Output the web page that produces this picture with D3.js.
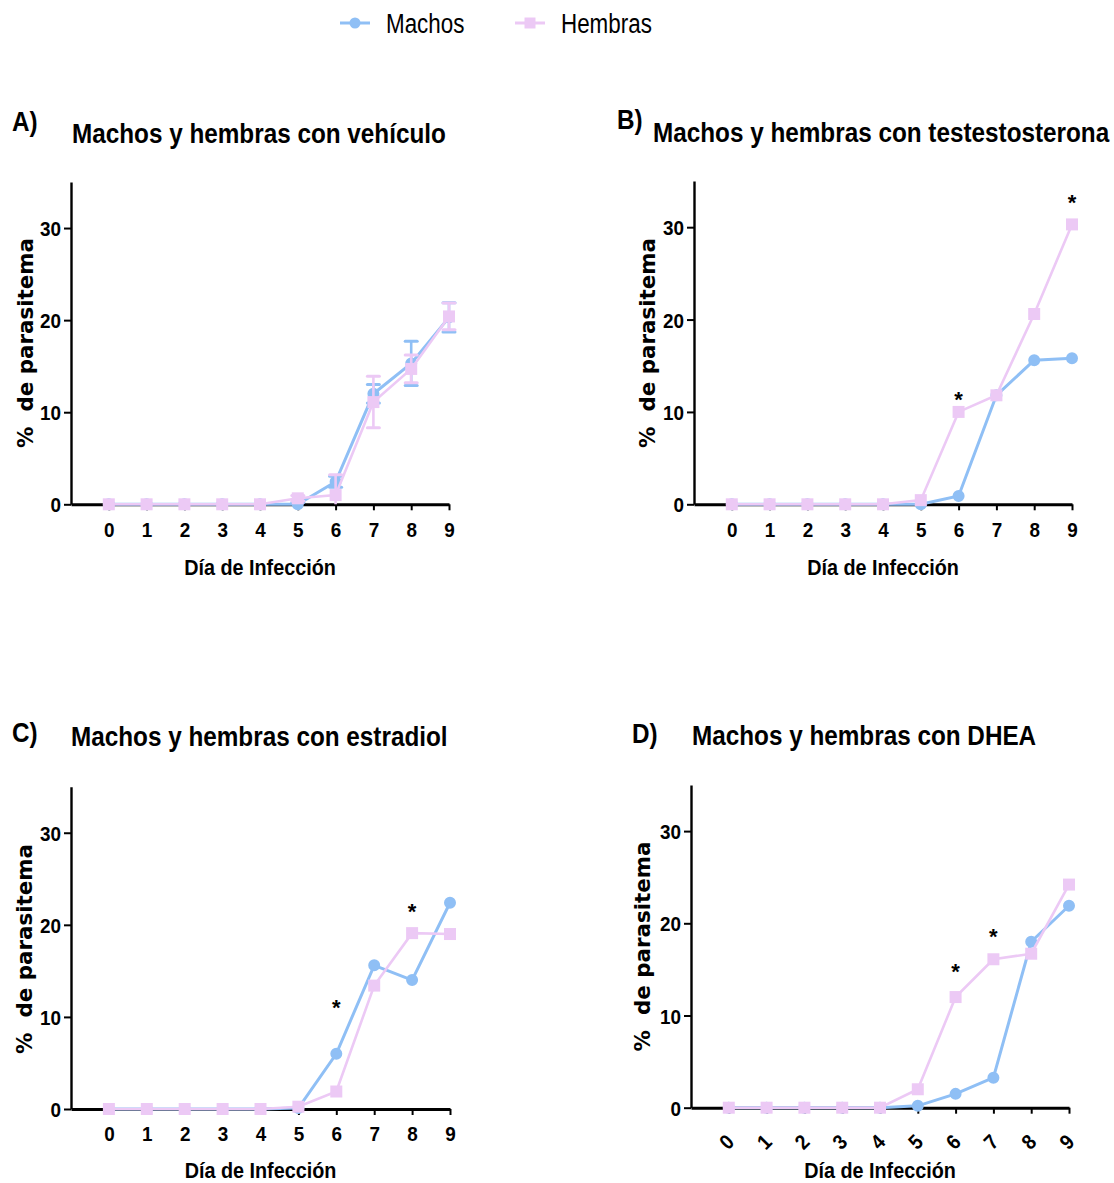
<!DOCTYPE html>
<html>
<head>
<meta charset="utf-8">
<script src="https://cdn.jsdelivr.net/npm/d3@7"></script>
<style>
  html, body { margin: 0; padding: 0; background: #ffffff; }
  svg { display: block; }
</style>
</head>
<body>
<svg id="chart" width="1114" height="1183"></svg>
<script>
// ---- data ----
const days = [0, 1, 2, 3, 4, 5, 6, 7, 8, 9];
const yTicks = [0, 10, 20, 30];
const seriesNames = ["Machos", "Hembras"];
const xAxisTitle = "Día de Infección";
const yAxisTitle = "%  de parasitema";

const titles = [
  "Machos y hembras con vehículo",
  "Machos y hembras con testestosterona",
  "Machos y hembras con estradiol",
  "Machos y hembras con DHEA"
];
const panelLetters = ["A)", "B)", "C)", "D)"];

// vehículo (mean ± error)
const vehMachos      = [0, 0, 0, 0, 0, 0,    2.45, 12.0, 15.3, 20.3];
const vehMachosErr   = [0, 0, 0, 0, 0, 0.2,  0.6,  1.0,  2.4,  1.6];
const vehHembras     = [0, 0, 0, 0, 0, 0.65, 1.0,  11.1, 14.7, 20.4];
const vehHembrasErr  = [0, 0, 0, 0, 0, 0.3,  2.2,  2.8,  1.5,  1.45];

// testosterona
const testMachos  = [0, 0, 0, 0, 0, 0,    0.9,  11.8, 15.6, 15.8];
const testHembras = [0, 0, 0, 0, 0, 0.45, 10.0, 11.8, 20.6, 30.3];
const testSig     = [{ day: 6, level: 11.8 }, { day: 9, level: 33.2 }];

// estradiol
const estMachos  = [0, 0, 0, 0, 0, 0.1,  6.0, 15.6, 14.0, 22.4];
const estHembras = [0, 0, 0, 0, 0, 0.25, 1.9, 13.4, 19.1, 19.0];
const estSig     = [{ day: 6, level: 11.5 }, { day: 8, level: 21.9 }];

// DHEA
const dheaMachos  = [0, 0, 0, 0, 0, 0.2, 1.5,  3.25, 18.0, 21.9];
const dheaHembras = [0, 0, 0, 0, 0, 2.0, 12.0, 16.1, 16.7, 24.2];
const dheaSig     = [{ day: 6, level: 15.3 }, { day: 7, level: 19.1 }];

// ---- styling ----
const BLUE = "#8fbff5";
const PINK = "#ecc9f5";
const FONT = "'Liberation Sans', Arial, sans-serif";
const YFONT = "'DejaVu Sans', Verdana, sans-serif";
const NARROW = 0.9;   // horizontal squeeze for the condensed bold lettering

const svg = d3.select("#chart");

// text helper: condensed look via horizontal scaling around the anchor point
function label(parent, x, y, str, opts) {
  const g = parent.append("g")
    .attr("transform", `translate(${x},${y}) scale(${opts.sx || 1},1)`);
  g.append("text")
    .attr("text-anchor", opts.anchor || "start")
    .attr("font-family", opts.family || FONT)
    .attr("font-weight", opts.weight || "bold")
    .attr("font-size", opts.size)
    .attr("fill", opts.fill || "#000")
    .text(str);
  return g;
}

// ---- legend ----
const legend = svg.append("g");
const legendItems = [
  { name: seriesNames[0], color: BLUE, shape: "circle", x: 340 },
  { name: seriesNames[1], color: PINK, shape: "square", x: 515 }
];
legendItems.forEach(it => {
  legend.append("line")
    .attr("x1", it.x).attr("x2", it.x + 30)
    .attr("y1", 23).attr("y2", 23)
    .attr("stroke", it.color).attr("stroke-width", 3);
  legend.append("path")
    .attr("transform", `translate(${it.x + 15},23)`)
    .attr("d", d3.symbol(it.shape === "circle" ? d3.symbolCircle : d3.symbolSquare,
                         it.shape === "circle" ? 95 : 121)())
    .attr("fill", it.color);
  label(legend, it.x + 46, 33, it.name, { size: 28, weight: "normal", sx: 0.8 });
});

// ---- panels ----
const panels = [
  { title: titles[0], letter: panelLetters[0], machos: vehMachos, hembras: vehHembras,
    machosErr: vehMachosErr, hembrasErr: vehHembrasErr, sig: [],
    x0: 71, x1: 449, yBase: 504.3, yTop: 182,
    titleX: 72, titleY: 142.7, letterX: 12, letterY: 130.5,
    ylabX: 32.5, ylabY: 343, xlabY: 575, rotTicks: false },
  { title: titles[1], letter: panelLetters[1], machos: testMachos, hembras: testHembras,
    sig: testSig,
    x0: 694, x1: 1072, yBase: 504.3, yTop: 181,
    titleX: 653, titleY: 141.7, letterX: 617, letterY: 129,
    ylabX: 655, ylabY: 343, xlabY: 575, rotTicks: false },
  { title: titles[2], letter: panelLetters[2], machos: estMachos, hembras: estHembras,
    sig: estSig,
    x0: 71, x1: 450, yBase: 1109, yTop: 786.7,
    titleX: 71, titleY: 746, letterX: 12, letterY: 741.5,
    ylabX: 32, ylabY: 949, xlabY: 1178, rotTicks: false },
  { title: titles[3], letter: panelLetters[3], machos: dheaMachos, hembras: dheaHembras,
    sig: dheaSig,
    x0: 691, x1: 1069, yBase: 1107.7, yTop: 785,
    titleX: 692, titleY: 745, letterX: 632, letterY: 743,
    ylabX: 650, ylabY: 946.5, xlabY: 1178, rotTicks: true }
];

panels.forEach(p => {
  const g = svg.append("g");
  const x = d3.scaleLinear().domain([-1, 9]).range([p.x0, p.x1]);
  const y = d3.scaleLinear().domain([0, 35]).range([p.yBase, p.yTop]);

  // titles
  label(g, p.letterX, p.letterY, p.letter, { size: 27, sx: NARROW });
  label(g, p.titleX, p.titleY, p.title, { size: 27, sx: NARROW });

  // y axis
  const ya = g.append("g")
    .attr("transform", `translate(${p.x0},0)`)
    .call(d3.axisLeft(y).tickValues(yTicks).tickSize(7).tickSizeOuter(0).tickPadding(3));
  ya.select(".domain").attr("stroke", "#000").attr("stroke-width", 2.4);
  ya.selectAll(".tick line").attr("stroke", "#000").attr("stroke-width", 2);
  ya.selectAll(".tick text")
    .attr("font-family", FONT).attr("font-weight", "bold").attr("font-size", 21)
    .attr("fill", "#000")
    .attr("x", -10 / NARROW).attr("dy", "0.36em")
    .attr("transform", `scale(${NARROW},1)`);

  // x axis
  const xa = g.append("g")
    .attr("transform", `translate(0,${p.yBase})`)
    .call(d3.axisBottom(x).tickValues(days).tickSize(6).tickSizeOuter(0).tickPadding(11.5));
  xa.select(".domain").attr("stroke", "#000").attr("stroke-width", 3);
  xa.selectAll(".tick line").attr("stroke", "#000").attr("stroke-width", 2);
  const xt = xa.selectAll(".tick text")
    .attr("font-family", FONT).attr("font-weight", "bold").attr("font-size", 21)
    .attr("fill", "#000");
  if (p.rotTicks) {
    xt.attr("x", 0).attr("y", 0).attr("dy", "0.36em")
      .attr("text-anchor", "middle")
      .attr("transform", `translate(-3,34) rotate(-45) scale(${NARROW},1)`);
  } else {
    xt.attr("transform", `scale(${NARROW},1)`);
  }

  // axis titles
  label(g, (p.x0 + p.x1) / 2, p.xlabY, xAxisTitle, { size: 22, sx: NARROW, anchor: "middle" });
  g.append("text")
    .attr("transform", `translate(${p.ylabX},${p.ylabY}) rotate(-90)`)
    .attr("text-anchor", "middle")
    .attr("font-family", YFONT).attr("font-weight", "bold").attr("font-size", 21.4)
    .attr("fill", "#000")
    .style("white-space", "pre")
    .text(yAxisTitle);

  // series
  const line = d3.line().x((d, i) => x(days[i])).y(d => y(d));
  const series = [
    { values: p.machos, err: p.machosErr, color: BLUE, shape: d3.symbolCircle, area: 113, width: 3 },
    { values: p.hembras, err: p.hembrasErr, color: PINK, shape: d3.symbolSquare, area: 144, width: 2.6 }
  ];
  series.forEach(s => {
    const sg = g.append("g");
    if (s.err) {
      s.values.forEach((v, i) => {
        const e = s.err[i];
        if (!e) return;
        const cx = x(days[i]);
        // error bars stop at the x axis
        const lo = Math.max(0, v - e), hi = v + e;
        sg.append("line").attr("x1", cx).attr("x2", cx)
          .attr("y1", y(lo)).attr("y2", y(hi))
          .attr("stroke", s.color).attr("stroke-width", 2.6);
        const caps = v - e >= 0 ? [v - e, hi] : [hi];
        caps.forEach(ev => {
          sg.append("line").attr("x1", cx - 6).attr("x2", cx + 6)
            .attr("y1", y(ev)).attr("y2", y(ev))
            .attr("stroke", s.color).attr("stroke-width", 3).attr("stroke-linecap", "round");
        });
      });
    }
    sg.append("path").datum(s.values)
      .attr("d", line).attr("fill", "none")
      .attr("stroke", s.color).attr("stroke-width", s.width);
    sg.selectAll(".mk").data(s.values).enter().append("path")
      .attr("transform", (d, i) => `translate(${x(days[i])},${y(d)})`)
      .attr("d", d3.symbol(s.shape, s.area)())
      .attr("fill", s.color);
  });

  // significance marks
  p.sig.forEach(m => {
    g.append("text")
      .attr("x", x(m.day)).attr("y", y(m.level) + 12)
      .attr("text-anchor", "middle")
      .attr("font-family", FONT).attr("font-weight", "bold").attr("font-size", 22)
      .attr("fill", "#000")
      .text("*");
  });
});
</script>
</body>
</html>
